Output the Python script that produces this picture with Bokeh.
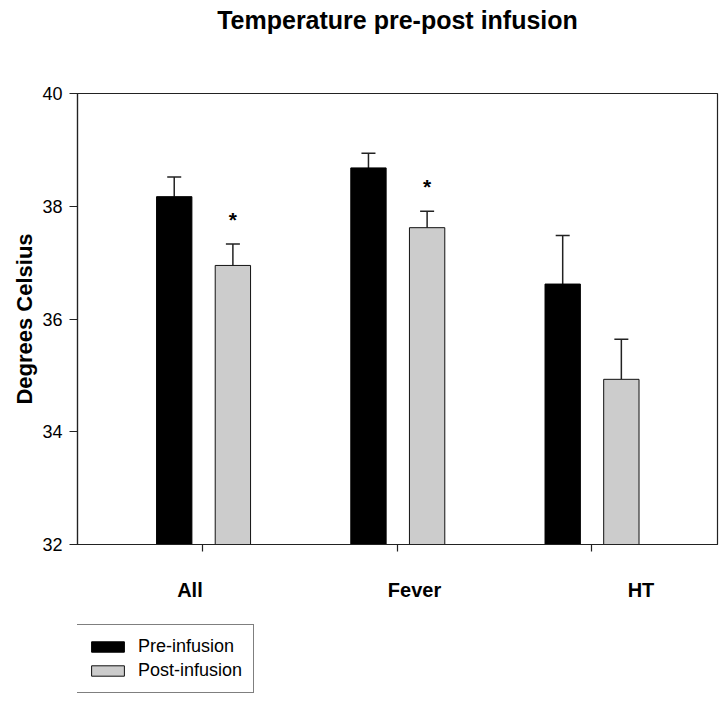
from bokeh.plotting import figure
from bokeh.models import (ColumnDataSource, Whisker, TeeHead, FixedTicker, Legend,
                          LegendItem, Range1d)
from bokeh.layouts import column
from bokeh.core.properties import value
from bokeh.embed import file_html
from bokeh.resources import INLINE

# ---- data ----
title_text = "Temperature pre-post infusion"
categories = ["All", "Fever", "HT"]
series_names = ["Pre-infusion", "Post-infusion"]
pre_mean = [38.17, 38.68, 36.62]
pre_err = [0.35, 0.26, 0.86]
post_mean = [36.95, 37.62, 34.93]
post_err = [0.38, 0.29, 0.71]
significant = [True, True, False]
y_ticks = [32, 34, 36, 38, 40]

# ---- layout helpers (not data) ----
cat_pos = list(range(len(categories)))
pre_shift, post_shift, bar_w = -0.147, 0.155, 0.182
label_shift = [-0.066, 0.09, 0.256]
FONT = "Liberation Sans"
PRE_FILL, POST_FILL = "black", "#cccccc"


def bare_figure(h):
    f = figure(width=720, height=h, output_backend="svg", toolbar_location=None,
               x_range=Range1d(0, 1), y_range=Range1d(0, 1),
               x_axis_location=None, y_axis_location=None,
               min_border_left=0, min_border_right=0, min_border_top=0,
               min_border_bottom=0)
    f.outline_line_color = None
    f.xgrid.visible = False
    f.ygrid.visible = False
    f.background_fill_color = "white"
    f.border_fill_color = "white"
    return f


# ---- title strip ----
tf = bare_figure(40)
tf.text(x=[0.5], y=[0.52], text=[title_text], text_align="center",
        text_baseline="alphabetic", text_font=value(FONT), text_font_style="bold",
        text_font_size="25px", text_color="black")

# ---- main chart ----
pre_src = ColumnDataSource(dict(
    x=[c + pre_shift for c in cat_pos], top=pre_mean,
    upper=[m + e for m, e in zip(pre_mean, pre_err)]))
post_src = ColumnDataSource(dict(
    x=[c + post_shift for c in cat_pos], top=post_mean,
    upper=[m + e for m, e in zip(post_mean, post_err)]))

p = figure(width=720, height=570, output_backend="svg", toolbar_location=None,
           x_range=Range1d(-0.645, 2.65), y_range=Range1d(32, 40),
           min_border_left=77, min_border_right=3, min_border_top=53,
           min_border_bottom=66)
p.background_fill_color = "white"
p.border_fill_color = "white"
p.outline_line_color = "#222222"
p.outline_line_width = 1.2
p.xgrid.visible = False
p.ygrid.visible = False

p.vbar(x="x", top="top", bottom=32, width=bar_w, source=pre_src,
       fill_color=PRE_FILL, line_color="black", line_width=1)
p.vbar(x="x", top="top", bottom=32, width=bar_w, source=post_src,
       fill_color=POST_FILL, line_color="#111111", line_width=1)

for src in (pre_src, post_src):
    p.add_layout(Whisker(source=src, base="x", upper="upper", lower="top",
                         line_color="#222222", line_width=1.5, lower_head=None,
                         upper_head=TeeHead(size=14, line_color="#222222", line_width=1.5)))

# significance stars
star_x = [c + post_shift for c, s in zip(cat_pos, significant) if s]
star_y = [m + e + 0.44 for m, e, s in zip(post_mean, post_err, significant) if s]
p.text(x=star_x, y=star_y, text=["*"] * len(star_x), text_align="center",
       text_baseline="alphabetic", text_font=value(FONT), text_font_style="bold",
       text_font_size="21px", text_color="black")

# y axis
ya = p.yaxis[0]
ya.ticker = FixedTicker(ticks=y_ticks)
ya.axis_label = "Degrees Celsius"
ya.axis_label_text_font = FONT
ya.axis_label_text_font_size = "22px"
ya.axis_label_text_font_style = "bold"
ya.axis_label_text_color = "black"
ya.axis_label_standoff = 2
ya.major_label_text_font = FONT
ya.major_label_text_font_size = "18px"
ya.major_label_text_color = "black"
ya.major_tick_out = 8
ya.major_tick_in = 0
ya.minor_tick_line_color = None
ya.major_label_standoff = 7
ya.axis_line_color = "#222222"
ya.axis_line_width = 1.2
ya.major_tick_line_color = "#222222"
ya.major_tick_line_width = 1.2

# x axis: labels at label positions (major), tick marks at category positions (minor)
xa = p.xaxis[0]
lab_pos = [c + s for c, s in zip(cat_pos, label_shift)]
xa.ticker = FixedTicker(ticks=lab_pos, minor_ticks=cat_pos)
xa.major_label_overrides = {lp: c for lp, c in zip(lab_pos, categories)}
xa.major_tick_line_color = None
xa.major_tick_out = 0
xa.major_tick_in = 0
xa.minor_tick_out = 7
xa.minor_tick_in = 0
xa.minor_tick_line_color = "#222222"
xa.minor_tick_line_width = 1.2
xa.axis_line_color = "#222222"
xa.axis_line_width = 1.2
xa.major_label_text_font = FONT
xa.major_label_text_font_size = "20px"
xa.major_label_text_font_style = "bold"
xa.major_label_text_color = "black"
xa.major_label_standoff = 27

# ---- legend strip below the chart ----
lg = bare_figure(84)
g_pre = lg.vbar(x=[-5], top=[-5], width=0.1, fill_color=PRE_FILL,
                line_color="black", line_width=1)
g_post = lg.vbar(x=[-5], top=[-5], width=0.1, fill_color=POST_FILL,
                 line_color="#111111", line_width=1)

legend = Legend(items=[LegendItem(label=series_names[0], renderers=[g_pre]),
                       LegendItem(label=series_names[1], renderers=[g_post])],
                location=(-2, 1))
legend.border_line_color = "black"
legend.border_line_width = 1
legend.background_fill_color = "white"
legend.background_fill_alpha = 1
legend.label_text_font = FONT
legend.label_text_font_size = "18px"
legend.label_text_color = "black"
legend.glyph_width = 41
legend.glyph_height = 13
legend.label_height = 17
legend.label_standoff = 10
legend.spacing = 3
legend.padding = 11
legend.margin = 0
lg.add_layout(legend, "center")

layout = column(tf, p, lg, spacing=0)
open("out.html", "w").write(file_html(layout, INLINE))
